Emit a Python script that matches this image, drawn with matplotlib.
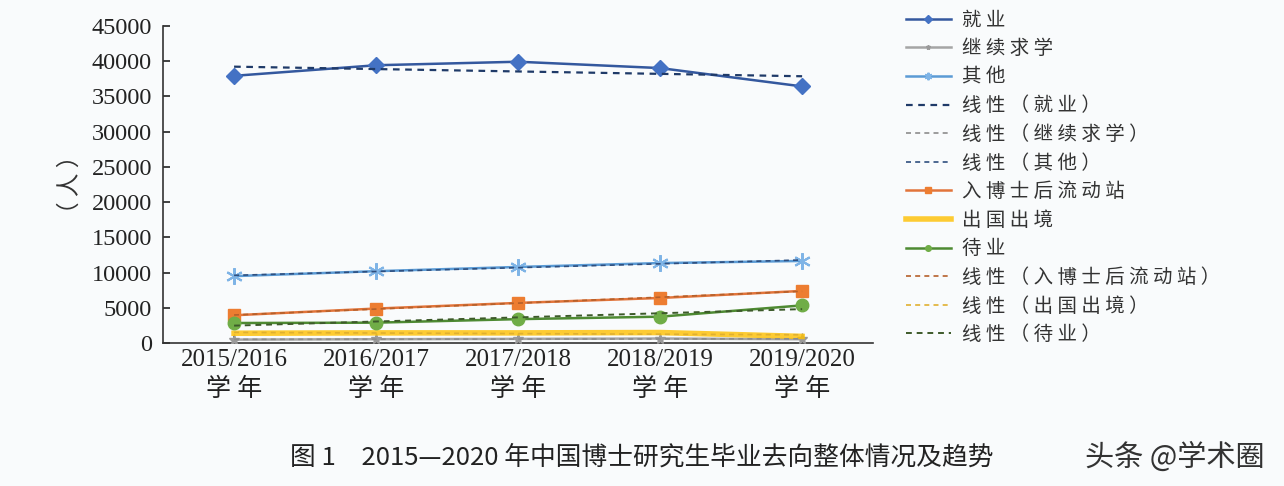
import numpy as np
import matplotlib
matplotlib.use('Agg')
import matplotlib.pyplot as plt

years = ['2015/2016', '2016/2017', '2017/2018', '2018/2019', '2019/2020']
jiuye = [37900, 39400, 39900, 39000, 36400]
jixu = [500, 550, 600, 650, 550]
qita = [9500, 10200, 10800, 11350, 11650]
boshihou = [3950, 4900, 5700, 6400, 7400]
chuguo = [1400, 1450, 1450, 1500, 950]
daiye = [2850, 2900, 3400, 3750, 5350]
yticks = list(range(0, 45001, 5000))

cjk = ['Noto Sans CJK SC', 'DejaVu Sans']
serif = ['Liberation Serif', 'Noto Sans CJK SC']

x = np.arange(len(years))


def trend(vals):
    k, b = np.polyfit(x, vals, 1)
    return k * x + b


fig = plt.figure(figsize=(12.84, 4.86), dpi=100, facecolor='#f9fbfc')
ax = fig.add_axes([0.127, 0.294, 0.553, 0.653])
ax.set_facecolor('#f9fbfc')

h = {}
h['就 业'], = ax.plot(x, jiuye, color='#34589e', lw=1.8, marker='D', ms=8,
                     mfc='#4472c4', mec='#4472c4', zorder=5)
h['继 续 求 学'], = ax.plot(x, jixu, color='#a5a5a5', lw=1.8, marker='*', ms=8,
                         mfc='#9a9a9a', mec='#9a9a9a', zorder=4)
h['其 他'], = ax.plot(x, qita, color='#5b9bd5', lw=1.8, marker=(6, 2, 0), ms=12,
                     mec='#7fb4e6', mew=1.5, zorder=5)
h['线 性 （ 就 业 ）'], = ax.plot(x, trend(jiuye), color='#1f3a68', lw=1.6, ls=(0, (3, 2.5)), zorder=6)
h['线 性 （ 继 续 求 学 ）'], = ax.plot(x, trend(jixu), color='#8c8c8c', lw=1.2, ls=(0, (3, 2.5)), zorder=6)
h['线 性 （ 其 他 ）'], = ax.plot(x, trend(qita), color='#2f4f7f', lw=1.2, ls=(0, (3, 2.5)), zorder=6)
h['入 博 士 后 流 动 站'], = ax.plot(x, boshihou, color='#e2743a', lw=1.8, marker='s', ms=9,
                               mfc='#ed7d31', mec='#ed7d31', zorder=5)
h['出 国 出 境'], = ax.plot(x, chuguo, color='#ffc000', lw=4, alpha=0.8, zorder=4)
h['待 业'], = ax.plot(x, daiye, color='#4e8a32', lw=1.8, marker='o', ms=9,
                     mfc='#70ad47', mec='#70ad47', zorder=5)
h['线 性 （ 入 博 士 后 流 动 站 ）'], = ax.plot(x, trend(boshihou), color='#b5602a', lw=1.2,
                                         ls=(0, (3, 2.5)), zorder=6)
h['线 性 （ 出 国 出 境 ）'], = ax.plot(x, trend(chuguo), color='#e0b030', lw=1.2, ls=(0, (3, 2.5)), zorder=6)
h['线 性 （ 待 业 ）'], = ax.plot(x, trend(daiye), color='#3d5a2a', lw=1.4, ls=(0, (3, 2.5)), zorder=6)

ax.set_xlim(-0.5, 4.5)
ax.set_ylim(0, 45000)
ax.set_yticks(yticks)
ax.set_yticklabels([str(v) for v in yticks], family=serif, fontsize=17.5)
ax.set_xticks(x)
ax.set_xticklabels([y + '\n学 年' for y in years], family=serif, fontsize=18, linespacing=1.4)
ax.tick_params(direction='in', length=5, width=1.2, colors='#222222', pad=4)
ax.tick_params(axis='y', pad=8)
for s in ['top', 'right']:
    ax.spines[s].set_visible(False)
for s in ['left', 'bottom']:
    ax.spines[s].set_color('#333333')
    ax.spines[s].set_linewidth(1.2)

ax.set_ylabel('（ 人 ）', family=cjk, fontsize=17, color='#333333')
ax.yaxis.set_label_coords(-0.115, 0.5)

leg = fig.legend(list(h.values()), list(h.keys()), loc='upper left',
                 bbox_to_anchor=(0.698, 1.0), frameon=False, prop={'family': cjk, 'size': 14},
                 handlelength=2.3, labelspacing=0.39, markerscale=0.45, handletextpad=0.6,
                 borderaxespad=0.1)
for t in leg.get_texts():
    t.set_color('#333333')

fig.text(0.5, 0.058, '图 1　2015—2020 年中国博士研究生毕业去向整体情况及趋势', family=cjk,
         fontsize=18.5, ha='center', va='center', color='#222222', weight='medium')
fig.text(0.915, 0.058, '头条 @学术圈', family=cjk, fontsize=21, ha='center', va='center',
         color='#333333')

fig.savefig('out.png', dpi=100, facecolor=fig.get_facecolor())
